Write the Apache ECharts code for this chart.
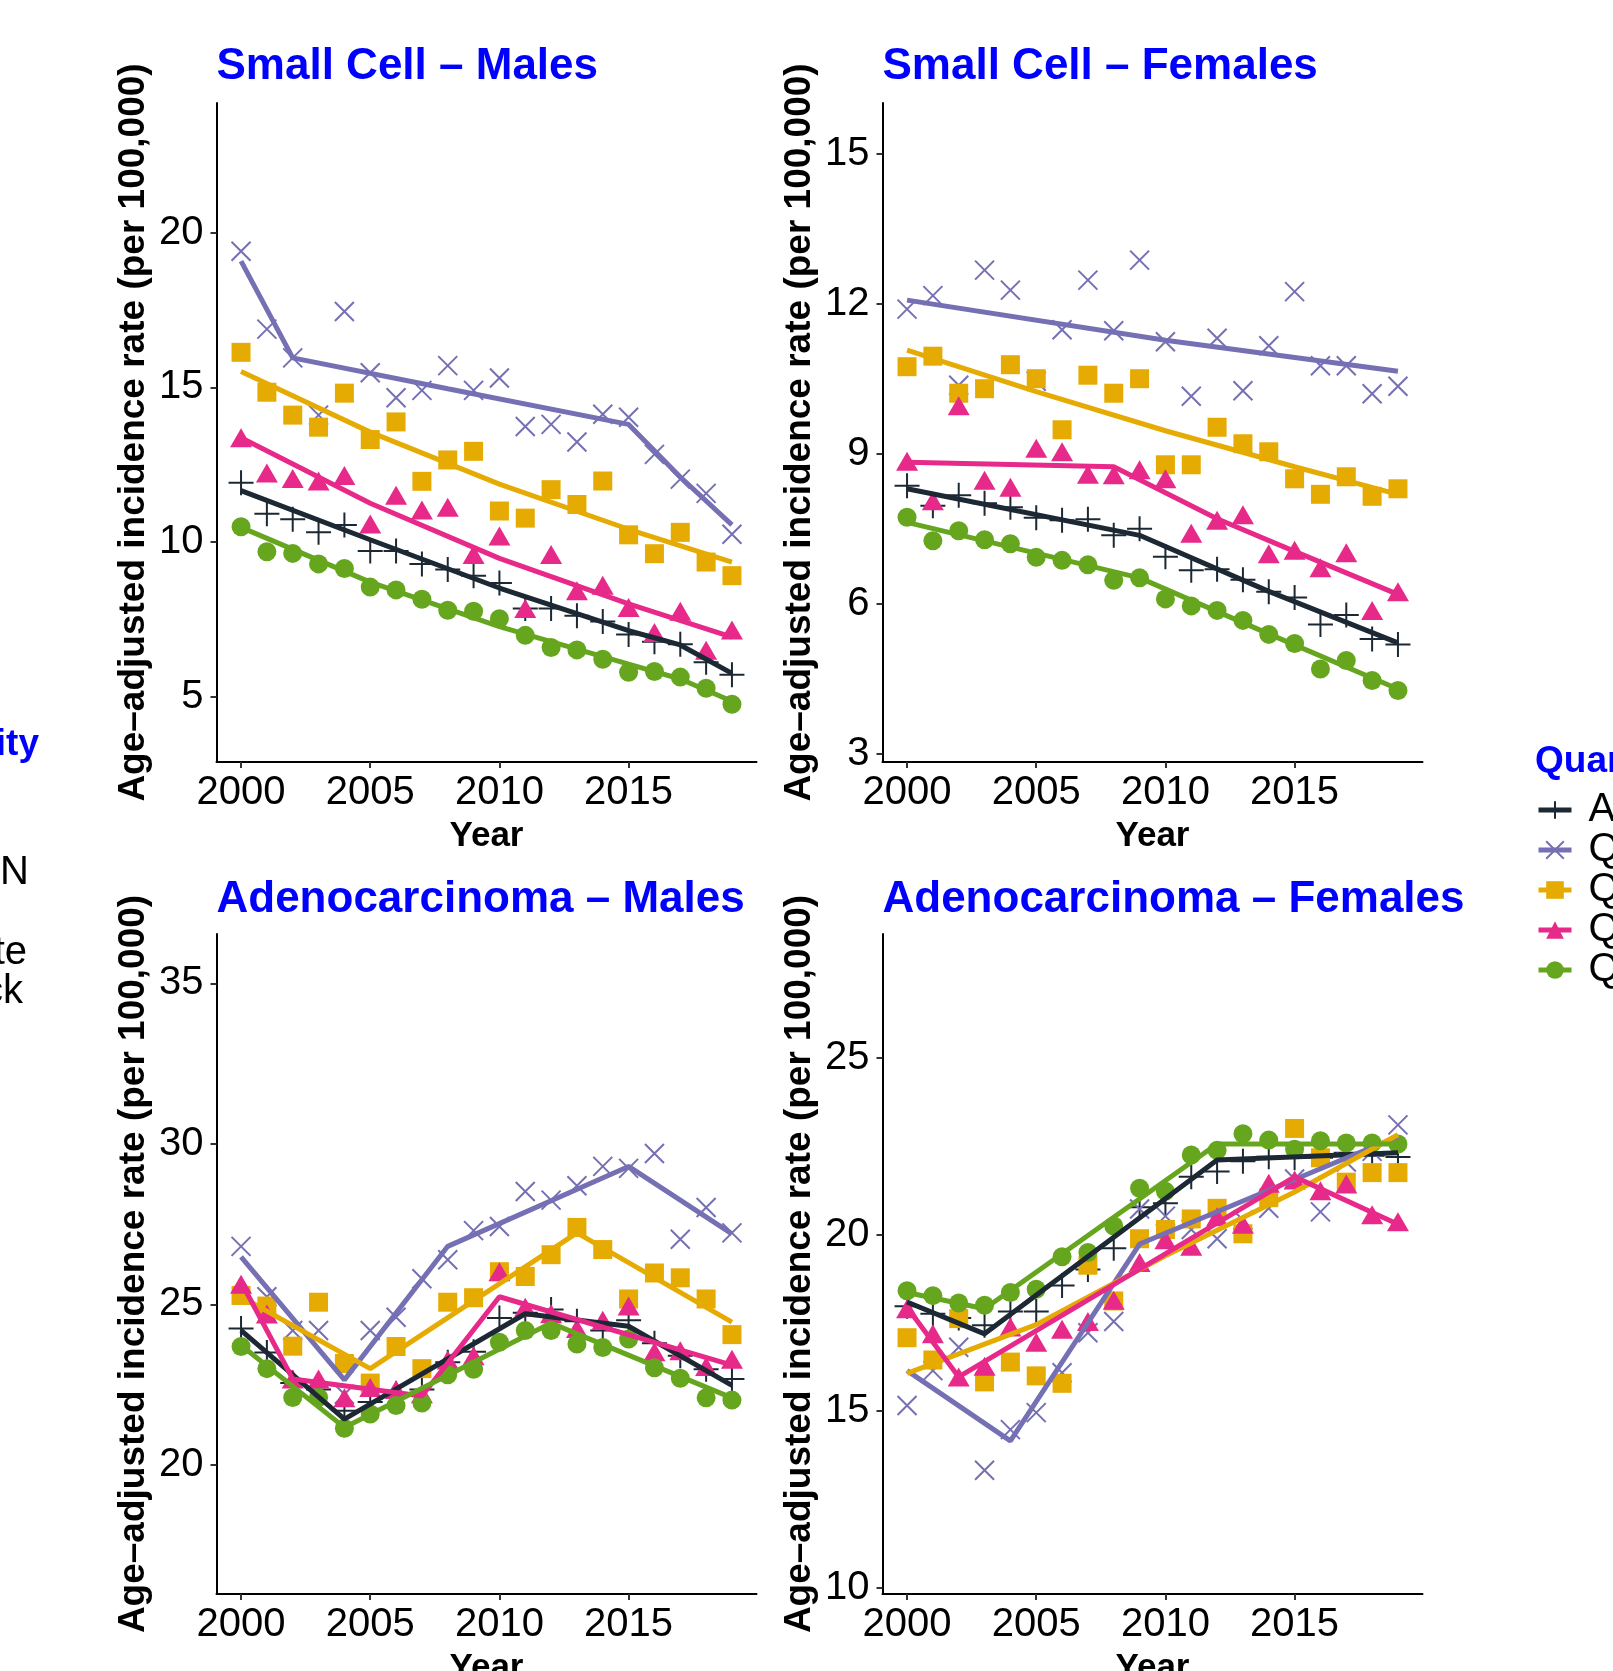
<!DOCTYPE html>
<html><head><meta charset="utf-8">
<script src="https://cdn.jsdelivr.net/npm/echarts@6/dist/echarts.min.js"></script>
<style>html,body{margin:0;padding:0;background:#fff;overflow:hidden}#c{width:1613px;height:1671px}</style>
</head><body><div id="c"></div>
<script>
const years = [2000,2001,2002,2003,2004,2005,2006,2007,2008,2009,2010,2011,2012,2013,2014,2015,2016,2017,2018,2019];
const groupNames = ['All','Q1','Q2','Q3','Q4'];
const xTicks = [2000,2005,2010,2015];
const yTicksSCM = [5,10,15,20];
const yTicksSCF = [3,6,9,12,15];
const yTicksADM = [20,25,30,35];
const yTicksADF = [10,15,20,25];

// Small Cell – Males (observed)
const scM_All = [11.91,10.91,10.73,10.31,10.55,9.71,9.71,9.29,9.11,8.91,8.67,7.85,7.85,7.61,7.43,7.01,6.77,6.69,6.11,5.71];
const scM_Q1 = [19.4,16.88,15.95,14.1,17.45,15.47,14.66,14.9,15.7,14.9,15.3,13.73,13.8,13.23,14.13,14.03,12.83,12.03,11.57,10.25];
const scM_Q2 = [16.13,14.84,14.1,13.71,14.81,13.31,13.88,11.96,12.65,12.93,11.0,10.77,11.69,11.21,11.97,10.23,9.62,10.31,9.35,8.91];
const scM_Q3 = [13.37,12.23,12.05,11.97,12.15,10.58,11.51,11.03,11.12,9.59,10.19,7.85,9.59,8.42,8.6,7.88,7.07,7.76,6.5,7.15];
const scM_Q4 = [10.49,9.68,9.63,9.29,9.14,8.54,8.45,8.15,7.79,7.76,7.52,6.98,6.59,6.51,6.21,5.79,5.81,5.63,5.27,4.75];
// Small Cell – Males (fitted)
const scM_All_fit = [[2000,11.66],[2005,10.07],[2010,8.51],[2015,7.13],[2017,6.67],[2019,5.75]];
const scM_Q1_fit = [[2000,19.08],[2002,15.95],[2008,14.95],[2015,13.8],[2017,12.1],[2019,10.55]];
const scM_Q2_fit = [[2000,15.51],[2005,13.55],[2010,11.87],[2015,10.41],[2019,9.35]];
const scM_Q3_fit = [[2000,13.37],[2005,11.25],[2010,9.47],[2015,8.0],[2019,6.92]];
const scM_Q4_fit = [[2000,10.47],[2005,8.7],[2010,7.26],[2015,6.05],[2017,5.57],[2019,4.85]];

// Small Cell – Females (observed)
const scF_All = [8.36,7.96,8.17,8.01,7.93,7.72,7.67,7.69,7.37,7.5,6.94,6.67,6.69,6.48,6.24,6.13,5.59,5.78,5.3,5.19];
const scF_Q1 = [11.89,12.16,10.37,12.67,12.27,10.45,11.48,12.47,11.46,12.87,11.24,10.15,11.31,10.26,11.16,12.24,10.76,10.76,10.2,10.35];
const scF_Q2 = [10.74,10.95,10.21,10.3,10.78,10.5,9.48,10.57,10.21,10.5,8.78,8.78,9.53,9.2,9.04,8.5,8.19,8.54,8.15,8.3];
const scF_Q3 = [8.85,8.06,9.96,8.47,8.33,9.11,9.04,8.59,8.58,8.68,8.5,7.41,7.67,7.78,7.0,7.07,6.72,7.02,5.87,6.24];
const scF_Q4 = [7.73,7.26,7.46,7.28,7.2,6.93,6.87,6.78,6.47,6.52,6.1,5.96,5.87,5.67,5.39,5.21,4.7,4.87,4.47,4.27];
// Small Cell – Females (fitted)
const scF_All_fit = [[2000,8.3],[2009,7.37],[2014,6.25],[2019,5.22]];
const scF_Q1_fit = [[2000,12.07],[2010,11.27],[2019,10.65]];
const scF_Q2_fit = [[2000,11.07],[2005,10.24],[2010,9.46],[2015,8.74],[2019,8.19]];
const scF_Q3_fit = [[2000,8.83],[2008,8.74],[2012,7.7],[2015,7.05],[2019,6.19]];
const scF_Q4_fit = [[2000,7.63],[2009,6.52],[2014,5.4],[2019,4.3]];

// Adenocarcinoma – Males (observed)
const adM_All = [24.25,23.5,22.55,22.35,21.69,21.96,22.22,22.35,23.2,23.53,24.58,24.74,24.84,24.48,24.19,24.51,23.79,23.4,22.98,22.68];
const adM_Q1 = [26.81,25.24,24.19,24.19,22.2,24.19,24.6,25.8,26.39,27.3,27.43,28.52,28.25,28.7,29.3,29.24,29.7,27.03,28.02,27.23];
const adM_Q2 = [25.28,24.95,23.7,25.07,23.16,22.55,23.69,23.0,25.07,25.21,26.02,25.87,26.55,27.4,26.71,25.17,25.98,25.83,25.17,24.06];
const adM_Q3 = [25.63,24.7,22.68,22.68,22.09,22.41,22.35,22.22,23.27,23.4,26.02,24.91,24.71,24.25,24.51,24.95,23.53,23.56,23.07,23.29];
const adM_Q4 = [23.69,23.0,22.1,22.1,21.14,21.59,21.85,21.93,22.81,22.98,23.82,24.19,24.19,23.77,23.66,23.92,23.03,22.7,22.09,22.02];
// Adenocarcinoma – Males (fitted)
const adM_All_fit = [[2000,24.19],[2004,21.43],[2011,24.71],[2015,24.32],[2019,22.48]];
const adM_Q1_fit = [[2000,26.48],[2004,22.65],[2008,26.81],[2015,29.3],[2019,27.2]];
const adM_Q2_fit = [[2000,25.24],[2005,23.0],[2013,27.23],[2019,24.45]];
const adM_Q3_fit = [[2000,25.7],[2002,22.68],[2007,22.15],[2010,25.24],[2019,23.11]];
const adM_Q4_fit = [[2000,23.73],[2004,21.17],[2012,24.42],[2019,22.09]];

// Adenocarcinoma – Females (observed)
const adF_All = [17.97,17.76,17.64,17.43,17.82,17.82,18.56,19.01,19.61,20.77,20.88,21.63,21.78,22.07,22.2,22.17,22.17,22.31,22.23,22.19];
const adF_Q1 = [15.16,16.15,16.81,13.33,14.48,14.96,16.09,17.22,17.54,20.72,20.52,20.14,19.88,20.41,20.74,21.57,20.64,22.05,22.35,23.1];
const adF_Q2 = [17.08,16.45,17.62,15.83,16.39,16.0,15.79,19.13,18.12,19.88,20.14,20.44,20.74,20.02,21.04,23.0,22.17,21.48,21.75,21.75];
const adF_Q3 = [17.9,17.19,15.97,16.27,17.38,16.95,17.32,17.54,18.14,19.21,19.85,19.67,20.5,20.29,21.45,21.54,21.24,21.43,20.56,20.36];
const adF_Q4 = [18.41,18.27,18.06,18.0,18.36,18.45,19.37,19.49,20.24,21.31,21.22,22.25,22.38,22.85,22.67,22.41,22.65,22.59,22.59,22.56];
// Adenocarcinoma – Females (fitted)
const adF_All_fit = [[2000,18.09],[2003,17.19],[2012,22.11],[2019,22.31]];
const adF_Q1_fit = [[2000,16.15],[2004,14.16],[2009,19.73],[2019,22.77]];
const adF_Q2_fit = [[2000,16.07],[2005,17.45],[2010,19.4],[2015,21.2],[2019,22.82]];
const adF_Q3_fit = [[2000,17.94],[2002,15.97],[2015,21.63],[2019,20.29]];
const adF_Q4_fit = [[2000,18.36],[2003,17.9],[2012,22.56],[2019,22.56]];

// ---------- styling ----------
const FONT = '"Liberation Sans", Arial, Helvetica, sans-serif';
const colors = ['#1C2833','#7570B3','#E6AB02','#E7298A','#66A61E'];
const PLUS = 'path://M0,-10L0,10M-10,0L10,0';
const CROSS = 'path://M-10,-10L10,10M-10,10L10,-10';
const symbols = [PLUS, CROSS, 'rect', 'triangle', 'circle'];
const symSizes = [25, 19, 19, [22,19], 19];
const stroked = [true, true, false, false, false];

const panels = [
  {title:'Small Cell – Males', min:2.886, max:24.19, ticks:yTicksSCM,
   pts:[scM_All,scM_Q1,scM_Q2,scM_Q3,scM_Q4], fits:[scM_All_fit,scM_Q1_fit,scM_Q2_fit,scM_Q3_fit,scM_Q4_fit],
   grid:{left:216.5, top:103, width:540, height:659}, titleTop:45},
  {title:'Small Cell – Females', min:2.84, max:16.01, ticks:yTicksSCF,
   pts:[scF_All,scF_Q1,scF_Q2,scF_Q3,scF_Q4], fits:[scF_All_fit,scF_Q1_fit,scF_Q2_fit,scF_Q3_fit,scF_Q4_fit],
   grid:{left:882.5, top:103, width:540, height:659}, titleTop:45},
  {title:'Adenocarcinoma – Males', min:15.98, max:36.54, ticks:yTicksADM,
   pts:[adM_All,adM_Q1,adM_Q2,adM_Q3,adM_Q4], fits:[adM_All_fit,adM_Q1_fit,adM_Q2_fit,adM_Q3_fit,adM_Q4_fit],
   grid:{left:216.5, top:934, width:540, height:660}, titleTop:878},
  {title:'Adenocarcinoma – Females', min:9.83, max:28.5, ticks:yTicksADF,
   pts:[adF_All,adF_Q1,adF_Q2,adF_Q3,adF_Q4], fits:[adF_All_fit,adF_Q1_fit,adF_Q2_fit,adF_Q3_fit,adF_Q4_fit],
   grid:{left:882.5, top:934, width:540, height:660}, titleTop:878}
];

const axisLineStyle = {show:true, onZero:false, lineStyle:{color:'#000', width:2}};
const grids = [], xAxes = [], yAxes = [], series = [], titles = [];

// dummy series used only for the legend keys
groupNames.forEach((n,k)=>{
  series.push({name:n, type:'line', xAxisIndex:0, yAxisIndex:0, data:[],
    symbol:symbols[k], symbolSize:symSizes[k],
    lineStyle:{color:colors[k], width:5},
    itemStyle: stroked[k] ? {color:'rgba(0,0,0,0)', borderColor:colors[k], borderWidth:2.5} : {color:colors[k]}});
});

panels.forEach((p,i)=>{
  grids.push(Object.assign({containLabel:false, outerBoundsMode:'none'}, p.grid));
  titles.push({text:p.title, left:p.grid.left, top:p.titleTop, padding:0,
    textStyle:{fontSize:44, fontWeight:'bold', color:'#0000FF', fontFamily:FONT, lineHeight:44}});
  xAxes.push({type:'value', gridIndex:i, min:1999.05, max:2019.95,
    name:'Year', nameLocation:'middle', nameGap:57,
    nameTextStyle:{fontSize:35, fontWeight:'bold', color:'#000', fontFamily:FONT},
    axisLine:axisLineStyle,
    axisTick:{show:true, length:6, customValues:xTicks, lineStyle:{color:'#333', width:2}},
    axisLabel:{customValues:xTicks, formatter:v=>String(v), fontSize:40, color:'#000', fontFamily:FONT, margin:11},
    splitLine:{show:false}});
  yAxes.push({type:'value', gridIndex:i, min:p.min, max:p.max,
    name:'Age–adjusted incidence rate (per 100,000)', nameLocation:'middle', nameGap:64, nameRotate:90,
    nameTextStyle:{fontSize:37, fontWeight:'bold', color:'#000', fontFamily:FONT},
    axisLine:axisLineStyle,
    axisTick:{show:true, length:6, customValues:p.ticks, lineStyle:{color:'#333', width:2}},
    axisLabel:{customValues:p.ticks, fontSize:40, color:'#000', fontFamily:FONT, margin:13},
    splitLine:{show:false}});
  p.pts.forEach((arr,k)=>{
    series.push({name:groupNames[k]+' observed '+i, type:'scatter', xAxisIndex:i, yAxisIndex:i, z:2,
      data: years.map((y,j)=>[y, arr[j]]),
      symbol:symbols[k], symbolSize:symSizes[k],
      itemStyle: stroked[k] ? {color:'rgba(0,0,0,0)', borderColor:colors[k], borderWidth:2, opacity:1} : {color:colors[k], opacity:1}});
  });
  p.fits.forEach((arr,k)=>{
    series.push({name:groupNames[k]+' fitted '+i, type:'line', xAxisIndex:i, yAxisIndex:i, z:3,
      data: arr, symbol:'none', showSymbol:false, smooth:false,
      lineStyle:{color:colors[k], width:5}});
  });
});

titles.push({text:'Quartile', left:1535, top:743, padding:0,
  textStyle:{fontSize:37, fontWeight:'bold', color:'#0000FF', fontFamily:FONT, lineHeight:37}});

const option = {
  animation:false,
  backgroundColor:'#fff',
  title: titles,
  grid: grids,
  xAxis: xAxes,
  yAxis: yAxes,
  legend: {data:groupNames, orient:'vertical', left:1536, top:790, itemWidth:33, itemHeight:22, itemGap:0,
    selectedMode:false, padding:0,
    lineStyle:{width:5},
    textStyle:{fontSize:40, color:'#000', fontFamily:FONT, padding:[0,0,0,12]}},
  graphic: [
    {type:'text', style:{text:'Race/Ethnicity', x:39, y:745, textAlign:'right', align:'right', textVerticalAlign:'middle', verticalAlign:'middle', font:'bold 37px '+FONT, fill:'#0000FF'}},
    {type:'text', style:{text:'NH AIAN', x:29, y:873, textAlign:'right', align:'right', textVerticalAlign:'middle', verticalAlign:'middle', font:'40px '+FONT, fill:'#000'}},
    {type:'text', style:{text:'NH White', x:27, y:953, textAlign:'right', align:'right', textVerticalAlign:'middle', verticalAlign:'middle', font:'40px '+FONT, fill:'#000'}},
    {type:'text', style:{text:'NH Black', x:23, y:992, textAlign:'right', align:'right', textVerticalAlign:'middle', verticalAlign:'middle', font:'40px '+FONT, fill:'#000'}}
  ],
  series: series
};
const chart = echarts.init(document.getElementById('c'), null, {renderer:'canvas'});
chart.setOption(option);
</script></body></html>
